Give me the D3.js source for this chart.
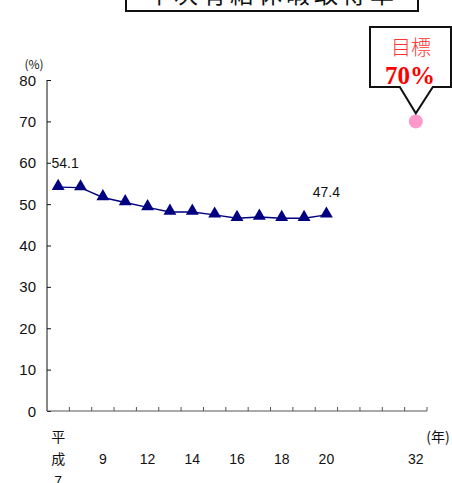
<!DOCTYPE html>
<html>
<head>
<meta charset="utf-8">
<script src="https://cdn.jsdelivr.net/npm/d3@7"></script>
<style>
  html, body { margin: 0; padding: 0; background: #fff; }
  svg { display: block; }
</style>
</head>
<body>
<svg id="chart" width="452" height="483"></svg>
<script>
// Fiscal years (Heisei era); the trailing slots lead up to the target year
const years = ["7", "8", "9", "11", "12", "13", "14", "15", "16", "17", "18", "19", "20", "21", "22", "23", "32"];
const yearLabels = ["平成7", "", "9", "", "12", "", "14", "", "16", "", "18", "", "20", "", "", "", "32"];
// Annual paid-leave take-up rate (%)
const rates = [54.1, 54.0, 51.6, 50.4, 49.2, 48.1, 48.1, 47.4, 46.6, 46.9, 46.6, 46.6, 47.4];
const targetYear = "32";
const targetRate = 70;
const yTicks = [0, 10, 20, 30, 40, 50, 60, 70, 80];
const title = "年次有給休暇取得率";

const svg = d3.select("#chart");
const sans = "'Liberation Sans', Arial, sans-serif";
const cjk = "'Noto Sans CJK JP', sans-serif";

const x = d3.scaleBand().domain(years).range([47, 427]).padding(0);
const y = d3.scaleLinear().domain([0, 80]).range([411, 80]);
const cx = d => x(d) + x.bandwidth() / 2;

// Title box (runs off the top edge)
svg.append("rect")
  .attr("x", 126).attr("y", -30).attr("width", 292).attr("height", 41)
  .attr("fill", "#fff").attr("stroke", "#111").attr("stroke-width", 2);
svg.append("text")
  .attr("x", 272).attr("y", 3)
  .attr("text-anchor", "middle")
  .attr("font-family", cjk).attr("font-size", 24)
  .attr("letter-spacing", 4)
  .attr("fill", "#111")
  .text(title);

// Y axis
const yAxis = svg.append("g")
  .attr("transform", "translate(47,0)")
  .call(d3.axisRight(y).tickValues(yTicks).tickSize(4).tickFormat(""));
yAxis.select(".domain").attr("stroke", "#111").attr("d", "M0,80V411");
yAxis.selectAll(".tick line").attr("stroke", "#111");
svg.append("g").selectAll("text").data(yTicks).join("text")
  .attr("x", 36).attr("y", d => y(d) + 5.5)
  .attr("text-anchor", "end")
  .attr("font-family", sans).attr("font-size", 15)
  .attr("fill", "#111")
  .text(d => d);
svg.append("text")
  .attr("x", 34).attr("y", 69)
  .attr("text-anchor", "middle")
  .attr("font-family", cjk).attr("font-size", 12)
  .attr("fill", "#111")
  .text("(%)");

// X axis with ticks at band boundaries
const xAxis = svg.append("g")
  .attr("transform", "translate(0,411)");
xAxis.append("line")
  .attr("x1", 47).attr("x2", 427)
  .attr("stroke", "#555");
xAxis.selectAll("line.tk").data(years).join("line")
  .attr("class", "tk")
  .attr("x1", d => x(d) + x.bandwidth()).attr("x2", d => x(d) + x.bandwidth())
  .attr("y1", 0).attr("y2", -4)
  .attr("stroke", "#555");

// Category labels
const labelG = svg.append("g")
  .attr("font-family", sans).attr("font-size", 14).attr("fill", "#111")
  .attr("text-anchor", "middle");
years.forEach((yr, i) => {
  const lab = yearLabels[i];
  if (!lab) return;
  if (lab.startsWith("平成")) {
    const parts = ["平", "成", lab.slice(2)];
    parts.forEach((p, j) => {
      labelG.append("text")
        .attr("x", cx(yr)).attr("y", 442 + j * 22)
        .attr("font-family", j < 2 ? cjk : sans)
        .text(p);
    });
  } else {
    labelG.append("text")
      .attr("x", cx(yr)).attr("y", 464)
      .text(lab);
  }
});
svg.append("text")
  .attr("x", 438).attr("y", 442)
  .attr("text-anchor", "middle")
  .attr("font-family", cjk).attr("font-size", 14)
  .attr("fill", "#111")
  .text("(年)");

// Rate line with triangle markers
const pts = rates.map((v, i) => ({ yr: years[i], v }));
svg.append("path")
  .datum(pts)
  .attr("fill", "none").attr("stroke", "#000080").attr("stroke-width", 1.4)
  .attr("d", d3.line().x(d => cx(d.yr)).y(d => y(d.v)));
svg.append("g").selectAll("path").data(pts).join("path")
  .attr("transform", d => `translate(${cx(d.yr)},${y(d.v) - 1})`)
  .attr("d", d3.symbol().type(d3.symbolTriangle).size(72))
  .attr("fill", "#000080");

// Value labels on first and last points
const first = pts[0], last = pts[pts.length - 1];
svg.append("text")
  .attr("x", cx(first.yr) + 7).attr("y", y(first.v) - 19)
  .attr("text-anchor", "middle")
  .attr("font-family", sans).attr("font-size", 14).attr("fill", "#111")
  .text(first.v.toFixed(1));
svg.append("text")
  .attr("x", cx(last.yr)).attr("y", y(last.v) - 18)
  .attr("text-anchor", "middle")
  .attr("font-family", sans).attr("font-size", 14).attr("fill", "#111")
  .text(last.v.toFixed(1));

// Target point and callout
const tx = cx(targetYear), ty = y(targetRate);
svg.append("circle")
  .attr("cx", tx).attr("cy", ty).attr("r", 7)
  .attr("fill", "#ff99cc");
svg.append("path")
  .attr("d", `M370,27H451V87H${tx + 17}L${tx},${ty - 8}L${tx - 16},87H370Z`)
  .attr("fill", "#fff").attr("stroke", "#111").attr("stroke-width", 2)
  .attr("stroke-linejoin", "miter");
svg.append("text")
  .attr("x", 411).attr("y", 55)
  .attr("text-anchor", "middle")
  .attr("font-family", cjk).attr("font-size", 20).attr("font-weight", 300)
  .attr("fill", "#ff3333")
  .text("目標");
svg.append("text")
  .attr("x", 410).attr("y", 84)
  .attr("text-anchor", "middle")
  .attr("font-family", "'Liberation Serif', 'Times New Roman', serif")
  .attr("font-size", 25).attr("font-weight", "bold")
  .attr("fill", "#ff0000")
  .text(targetRate + "%");
</script>
</body>
</html>
